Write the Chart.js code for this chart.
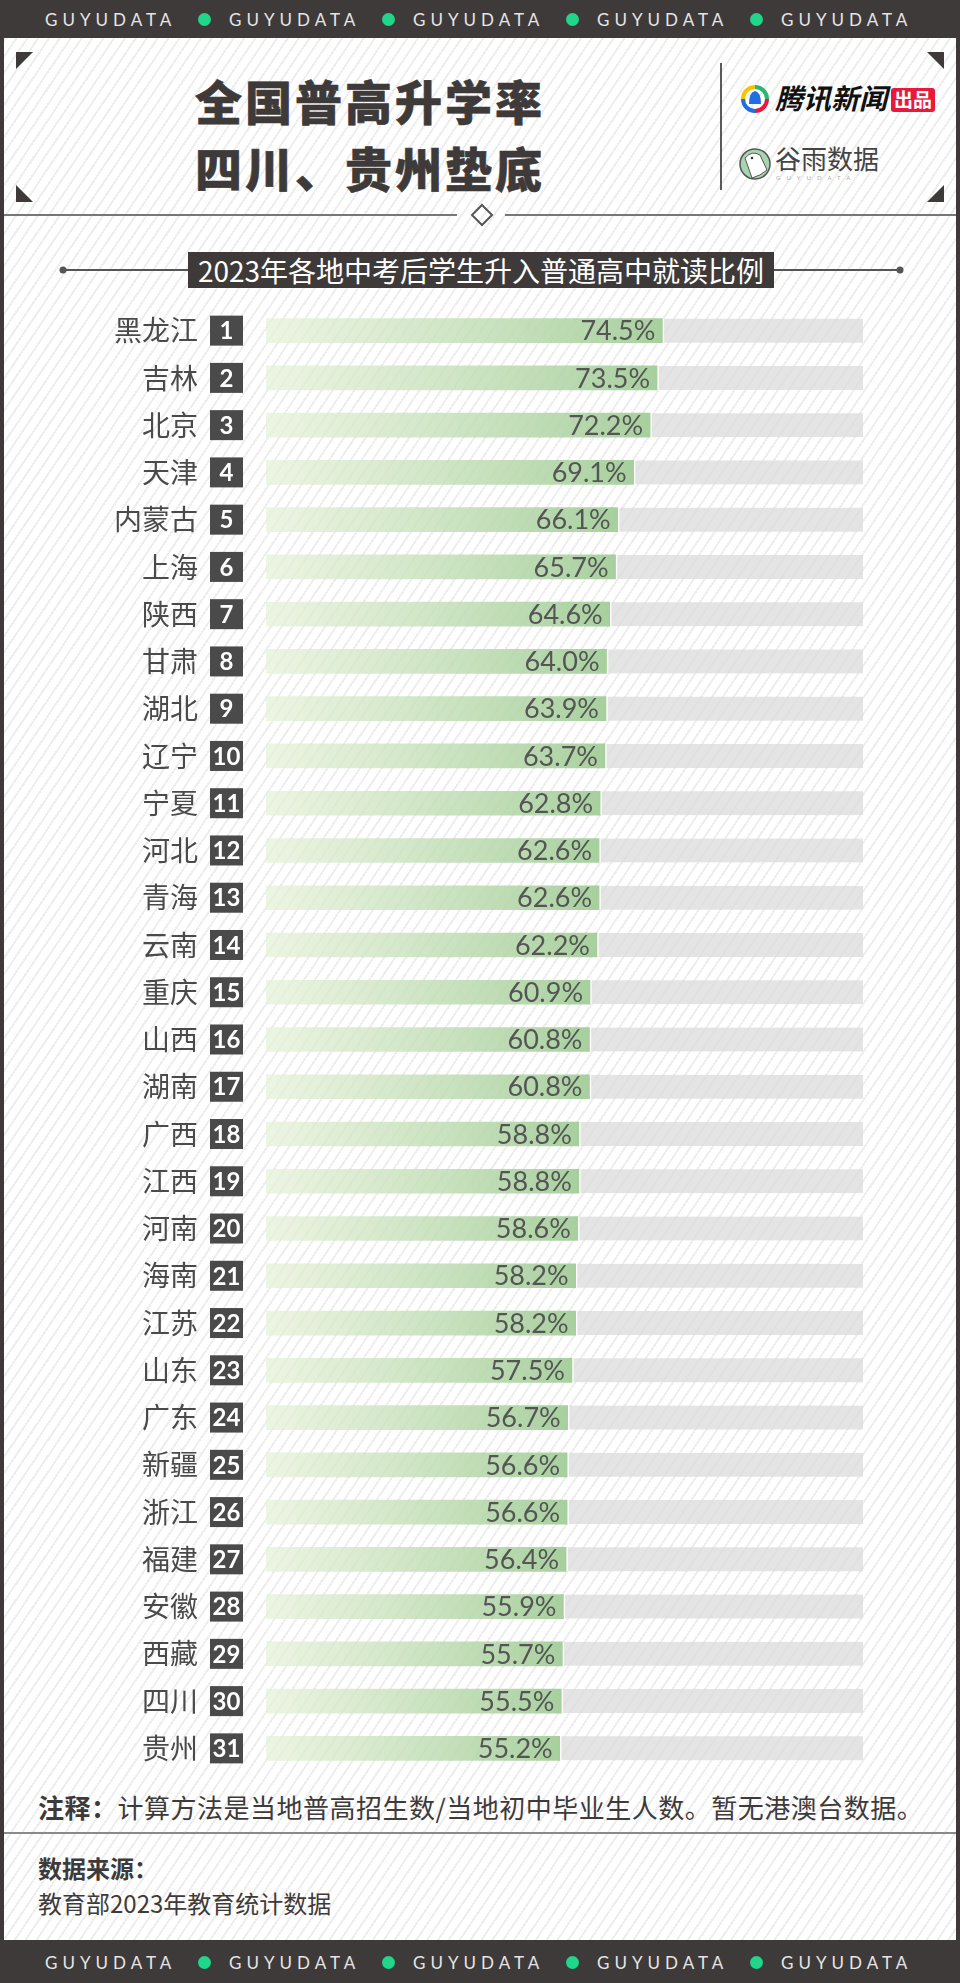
<!DOCTYPE html>
<html lang="zh">
<head>
<meta charset="utf-8">
<title>全国普高升学率 四川、贵州垫底</title>
<script src="https://cdn.jsdelivr.net/npm/chart.js@4.4.1/dist/chart.umd.min.js"></script>
<style>
  html, body { margin: 0; padding: 0; }
  body {
    width: 960px; height: 1983px; position: relative; overflow: hidden;
    font-family: "Noto Sans CJK SC", "Noto Sans", sans-serif;
    background: repeating-linear-gradient(124deg, #ffffff 0 7px, #eeeeee 7px 9px);
  }
  .band { position: absolute; left: 0; width: 960px; background: #3e3a39; }
  .band .w { position: absolute; top: 50%; transform: translateY(-50%); color: #e6e6e6;
    font: 17px Lato, sans-serif; letter-spacing: 5px; line-height: 1; }
  .band .d { position: absolute; top: 50%; width: 13px; height: 13px; margin: -6px 0 0 -6px;
    border-radius: 50%; background: #1fd68a; }
  .side { position: absolute; top: 0; width: 4px; height: 1983px; background: #3e3a39; }
  .title { position: absolute; left: 0; width: 734px; text-align: center; color: #3e3a39;
    font-weight: 900; font-size: 47px; letter-spacing: 3px; padding-left: 3px; height: 60px; line-height: 60px;
    -webkit-text-stroke: 0.6px #3e3a39; }
  .sub { position: absolute; left: 188px; top: 252px; width: 586px; height: 36px; line-height: 36px;
    text-align: center; color: #fff; font-size: 28px; }
  .txt { position: absolute; left: 38px; color: #3e3a39; white-space: nowrap; }
  #wrap { position: absolute; left: 0; top: 307px; width: 960px; height: 1465px; }
</style>
</head>
<body>

<div class="band" style="top:0;height:38px">
  <span class="w" style="left:45px">GUYUDATA</span><span class="d" style="left:204px"></span>
  <span class="w" style="left:229px">GUYUDATA</span><span class="d" style="left:388px"></span>
  <span class="w" style="left:413px">GUYUDATA</span><span class="d" style="left:572px"></span>
  <span class="w" style="left:597px">GUYUDATA</span><span class="d" style="left:756px"></span>
  <span class="w" style="left:781px">GUYUDATA</span>
</div>
<div class="side" style="left:0"></div>
<div class="side" style="left:956px"></div>

<svg width="960" height="1983" style="position:absolute;left:0;top:0">
  <g fill="#3e3a39">
    <polygon points="16,52 33,52 16,69"/>
    <polygon points="944,52 927,52 944,69"/>
    <polygon points="16,202 16,185 33,202"/>
    <polygon points="944,202 944,185 927,202"/>
  </g>
  <line x1="721" y1="63" x2="721" y2="190" stroke="#5a5a5a" stroke-width="2"/>
  <line x1="4" y1="215" x2="457" y2="215" stroke="#777" stroke-width="2"/>
  <line x1="505" y1="215" x2="956" y2="215" stroke="#777" stroke-width="2"/>
  <polygon points="482,205 492,215 482,225 472,215" fill="none" stroke="#555" stroke-width="2"/>
  <line x1="63" y1="270" x2="900" y2="270" stroke="#555" stroke-width="2"/>
  <circle cx="63" cy="270" r="3.5" fill="#555"/>
  <circle cx="900" cy="270" r="3.5" fill="#555"/>
  <rect x="188" y="252" width="586" height="36" fill="#3e3a39"/>
  <line x1="4" y1="1833" x2="956" y2="1833" stroke="#8a8a8a" stroke-width="2"/>

  <!-- 腾讯新闻 logo -->
  <g fill="none" stroke-width="4">
    <path d="M743 99 A12 12 0 0 1 755 87" stroke="#f5c400"/>
    <path d="M755 87 A12 12 0 0 1 767 99" stroke="#2bb673"/>
    <path d="M767 99 A12 12 0 0 1 755 111" stroke="#e8193c"/>
    <path d="M755 111 A12 12 0 0 1 743 99" stroke="#1e6fe0"/>
  </g>
  <path d="M749 104 Q749 92 755 91 Q761 92 761 104 Z" fill="#1e6fe0"/>
  <text x="775" y="109" font-family="Noto Sans CJK SC" font-weight="bold" font-size="28" font-style="italic" fill="#111">腾讯新闻</text>
  <rect x="891" y="88" width="44" height="24" rx="3" fill="#e8193c"/>
  <text x="913" y="107" text-anchor="middle" font-family="Noto Sans CJK SC" font-weight="bold" font-size="19" fill="#fff">出品</text>

  <!-- 谷雨数据 logo -->
  <circle cx="755" cy="164" r="15" fill="#a8d4b2" stroke="#555" stroke-width="1.5"/>
  <path d="M745 158 Q752 150 760 155 L767 170 Q760 176 752 178 Z" fill="#fff" stroke="#555" stroke-width="1"/>
  <circle cx="752" cy="158" r="1.3" fill="#333"/>
  <text x="775" y="169" font-family="Noto Sans CJK SC" font-size="26" fill="#444">谷雨数据</text>
  <text x="776" y="180" font-family="Lato" font-size="6" letter-spacing="6" fill="#aaa">GUYUDATA</text>
</svg>

<div class="title" style="top:70px">全国普高升学率</div>
<div class="title" style="top:137px">四川、贵州垫底</div>
<div class="sub">2023年各地中考后学生升入普通高中就读比例</div>

<div id="wrap"><canvas id="chart" width="960" height="1465"></canvas></div>

<div class="txt" style="top:1787px;line-height:40px;font-size:26px;letter-spacing:0.5px"><b>注释：</b>计算方法是当地普高招生数/当地初中毕业生人数。暂无港澳台数据。</div>
<div class="txt" style="top:1850px;line-height:36px;font-size:24px;font-weight:bold">数据来源：</div>
<div class="txt" style="top:1885px;line-height:36px;font-size:24px">教育部2023年教育统计数据</div>

<div class="band" style="top:1940px;height:43px">
  <span class="w" style="left:45px">GUYUDATA</span><span class="d" style="left:204px"></span>
  <span class="w" style="left:229px">GUYUDATA</span><span class="d" style="left:388px"></span>
  <span class="w" style="left:413px">GUYUDATA</span><span class="d" style="left:572px"></span>
  <span class="w" style="left:597px">GUYUDATA</span><span class="d" style="left:756px"></span>
  <span class="w" style="left:781px">GUYUDATA</span>
</div>

<script>
const provinces = ['黑龙江', '吉林', '北京', '天津', '内蒙古', '上海', '陕西', '甘肃', '湖北', '辽宁',
    '宁夏', '河北', '青海', '云南', '重庆', '山西', '湖南', '广西', '江西', '河南',
    '海南', '江苏', '山东', '广东', '新疆', '浙江', '福建', '安徽', '西藏', '四川', '贵州'];
const ranks = ['1', '2', '3', '4', '5', '6', '7', '8', '9', '10', '11', '12', '13', '14', '15', '16',
    '17', '18', '19', '20', '21', '22', '23', '24', '25', '26', '27', '28', '29', '30', '31'];
const rates = [74.5, 73.5, 72.2, 69.1, 66.1, 65.7, 64.6, 64.0, 63.9, 63.7,
    62.8, 62.6, 62.6, 62.2, 60.9, 60.8, 60.8, 58.8, 58.8, 58.6,
    58.2, 58.2, 57.5, 56.7, 56.6, 56.6, 56.4, 55.9, 55.7, 55.5, 55.2];
// grey track runs to this value on the axis
const trackMax = 112.2;
const rest = rates.map(v => +(trackMax - v).toFixed(1));

// green gradient per bar, light at the start and darker at the bar end
function barGradient(ctx) {
    const chart = ctx.chart;
    const x = chart.scales.x;
    if (ctx.type !== 'data' || !x) {
        return '#b8d8ad';
    }
    const x0 = x.getPixelForValue(0);
    const x1 = x.getPixelForValue(rates[ctx.dataIndex]);
    if (!Number.isFinite(x0) || !Number.isFinite(x1) || x1 <= x0) {
        return '#b8d8ad';
    }
    const g = chart.ctx.createLinearGradient(x0, 0, x1, 0);
    g.addColorStop(0, 'rgba(230,241,216,0.72)');
    g.addColorStop(1, 'rgba(160,204,150,0.92)');
    return g;
}

const rankBoxes = {
    id: 'rankBoxes',
    afterDraw(chart) {
        const ctx = chart.ctx;
        const y = chart.scales.y;
        ctx.save();
        ranks.forEach((r, i) => {
            const py = y.getPixelForTick(i);
            ctx.fillStyle = '#4a4a4a';
            ctx.fillRect(210, py - 15, 33, 30);
            ctx.fillStyle = '#ffffff';
            ctx.font = 'bold 24px Lato';
            ctx.textAlign = 'center';
            ctx.textBaseline = 'middle';
            ctx.fillText(r, 226.5, py + 1);
        });
        ctx.restore();
    }
};

const valueLabels = {
    id: 'valueLabels',
    afterDatasetsDraw(chart) {
        const ctx = chart.ctx;
        const meta = chart.getDatasetMeta(0);
        ctx.save();
        ctx.font = '27px Lato';
        ctx.fillStyle = '#555555';
        ctx.textAlign = 'right';
        ctx.textBaseline = 'middle';
        meta.data.forEach((bar, i) => {
            ctx.fillText(rates[i].toFixed(1) + '%', bar.x - 7, bar.y + 1);
        });
        ctx.restore();
    }
};

new Chart(document.getElementById('chart'), {
    type: 'bar',
    data: {
        labels: provinces,
        datasets: [{
            label: '升学率',
            data: rates,
            backgroundColor: barGradient,
            borderWidth: 0,
            barThickness: 24
        }, {
            label: '其余',
            data: rest,
            backgroundColor: 'rgba(221,221,221,0.78)',
            borderColor: 'rgba(255,255,255,0.9)',
            borderWidth: {left: 2},
            borderSkipped: false,
            barThickness: 24
        }]
    },
    options: {
        indexAxis: 'y',
        responsive: false,
        animation: false,
        layout: {padding: {left: 0, right: 97, top: 0, bottom: 0}},
        plugins: {
            legend: {display: false},
            tooltip: {enabled: false}
        },
        scales: {
            x: {stacked: true, display: false, min: 0, max: trackMax},
            y: {
                stacked: true,
                grid: {display: false, drawTicks: false},
                border: {display: false},
                ticks: {
                    autoSkip: false,
                    padding: 68,
                    color: '#4a4a4a',
                    font: {family: '"Noto Sans CJK SC"', size: 28}
                },
                afterFit: function (scale) {
                    // fixed axis width; the tick padding must not push the plot area in from top/bottom
                    scale.width = 266;
                    scale.paddingTop = 0;
                    scale.paddingBottom = 0;
                }
            }
        }
    },
    plugins: [rankBoxes, valueLabels]
});
</script>
</body>
</html>
